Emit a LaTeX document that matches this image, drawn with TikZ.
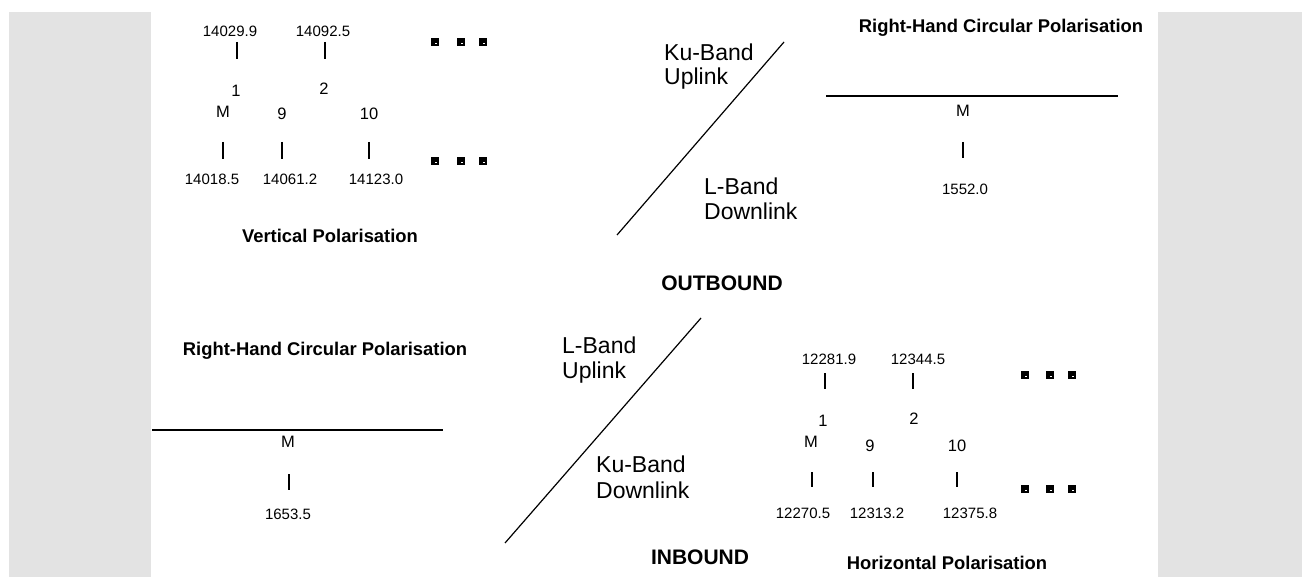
\documentclass[tikz,border=0pt]{standalone}
\usepackage{fontspec}
\setmainfont{Liberation Sans}
\definecolor{bandgrey}{HTML}{E3E3E3}
\tikzset{
  num/.style={inner sep=0pt, font=\fontsize{15}{18}\selectfont},
  chan/.style={inner sep=0pt, font=\fontsize{16.5}{19}\selectfont},
  band/.style={inner sep=0pt, anchor=base west, font=\fontsize{23}{26}\selectfont},
  title/.style={inner sep=0pt, font=\fontsize{18.4}{21}\selectfont\bfseries},
  dir/.style={inner sep=0pt, font=\fontsize{21}{24}\selectfont\bfseries},
  tick/.style={line width=1.6pt},
  rule/.style={line width=1.2pt},
  sq/.style={fill=black, minimum size=8pt, inner sep=0pt, draw=none},
  sqmark/.style={fill=white, minimum width=2pt, minimum height=1.5pt, inner sep=0pt, draw=none}
}
\begin{document}
\begin{tikzpicture}[x=1pt,y=-1pt]
\useasboundingbox (0,0) rectangle (1305,577);
\fill[white] (0,0) rectangle (1305,577);
\fill[bandgrey] (9,12) rectangle (151,577);
\fill[bandgrey] (1158,12) rectangle (1302,577);

% ---------- top-left: vertical polarisation ----------
\node[num] (vA) at (230,31) {14029.9};
\node[num] (vB) at (323,31) {14092.5};
\draw[tick] (237,42) -- (237,59);
\draw[tick] (325,42) -- (325,59);
\node[chan] (v1) at (236,91) {1};
\node[chan] (v2) at (324,89) {2};
\node[chan] (vM) at (223,112) {M};
\node[chan] (v9) at (282,114) {9};
\node[chan] (v10) at (369,114) {10};
\draw[tick] (223,142) -- (223,159);
\draw[tick] (282,142) -- (282,159);
\draw[tick] (369,142) -- (369,159);
\node[num] (vC) at (212,179) {14018.5};
\node[num] (vD) at (290,179) {14061.2};
\node[num] (vE) at (376,179) {14123.0};
\node[title] (vT) at (330,236) {Vertical Polarisation};
\foreach \x/\n in {435/a,461/b,483/c}{
  \node[sq] (vs\n) at (\x,42) {}; \node[sqmark] at (\x+0.5,43.5) {};
  \node[sq] (vt\n) at (\x,161) {}; \node[sqmark] at (\x+0.5,162.5) {};
}

% ---------- top-right: outbound L-band ----------
\coordinate (d1a) at (617,235);
\coordinate (d1b) at (784,42);
\draw[rule] (d1a) -- (d1b);
\node[band] (kuU1) at (664,61) {Ku-Band};
\node[band] (kuU2) at (664,85) {Uplink};
\node[band] (lD1) at (704,195) {L-Band};
\node[band] (lD2) at (704,220) {Downlink};
\node[title] (rT) at (1001,28) {Right-Hand Circular Polarisation};
\coordinate (r1a) at (826,96);
\coordinate (r1b) at (1118,96);
\draw[rule] (r1a) -- (r1b);
\node[chan] (rM) at (963,111) {M};
\draw[tick] (963,142) -- (963,158);
\node[num] (rF) at (965,189) {1552.0};

% ---------- middle labels ----------
\node[dir] (out) at (722,283) {OUTBOUND};
\node[dir] (in) at (700,557) {INBOUND};

% ---------- bottom-left: inbound L-band ----------
\node[title] (lT) at (325,351) {Right-Hand Circular Polarisation};
\coordinate (l1a) at (152,430);
\coordinate (l1b) at (443,430);
\draw[rule] (l1a) -- (l1b);
\node[chan] (lM) at (288,442) {M};
\draw[tick] (289,474) -- (289,490);
\node[num] (lF) at (288,514) {1653.5};

% ---------- bottom middle ----------
\coordinate (d2a) at (505,543);
\coordinate (d2b) at (701,318);
\draw[rule] (d2a) -- (d2b);
\node[band] (lU1) at (562,353) {L-Band};
\node[band] (lU2) at (562,378) {Uplink};
\node[band] (kD1) at (596,472) {Ku-Band};
\node[band] (kD2) at (596,498) {Downlink};

% ---------- bottom-right: horizontal polarisation ----------
\node[num] (hA) at (829,359) {12281.9};
\node[num] (hB) at (918,359) {12344.5};
\draw[tick] (825,373) -- (825,389);
\draw[tick] (913,373) -- (913,389);
\node[chan] (h1) at (823,421) {1};
\node[chan] (h2) at (914,419) {2};
\node[chan] (hM) at (811,442) {M};
\node[chan] (h9) at (870,446) {9};
\node[chan] (h10) at (957,446) {10};
\draw[tick] (812,472) -- (812,487);
\draw[tick] (873,472) -- (873,487);
\draw[tick] (957,472) -- (957,487);
\node[num] (hC) at (803,513) {12270.5};
\node[num] (hD) at (877,513) {12313.2};
\node[num] (hE) at (970,513) {12375.8};
\node[title] (hT) at (947,563) {Horizontal Polarisation};
\foreach \x/\n in {1025/a,1050/b,1072/c}{
  \node[sq] (hs\n) at (\x,375) {}; \node[sqmark] at (\x+0.5,376.5) {};
  \node[sq] (ht\n) at (\x,489) {}; \node[sqmark] at (\x+0.5,490.5) {};
}
\end{tikzpicture}
\end{document}
